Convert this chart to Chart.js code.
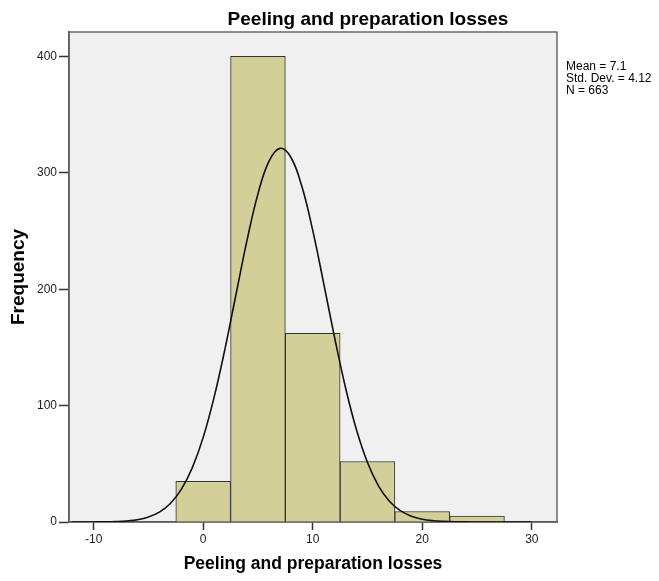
<!DOCTYPE html>
<html>
<head>
<meta charset="utf-8">
<script src="https://cdn.jsdelivr.net/npm/chart.js@4/dist/chart.umd.min.js"></script>
<style>
  body { margin: 0; background: #fff; }
  #histChart { display: block; }
</style>
</head>
<body>
<canvas id="histChart" width="659" height="581"></canvas>

<script>
  // histogram bins (centres) and counts
  const binCentres = [0, 5, 10, 15, 20, 25];
  const binCounts = [35, 400, 162, 52, 9, 5];

  // normal curve
  const curveX = [-12, -11, -10, -9, -8, -7, -6, -5, -4, -3, -2, -1, 0, 1, 2, 3, 4, 5, 6, 7, 8, 9,
    10, 11, 12, 13, 14, 15, 16, 17, 18, 19, 20, 21, 22, 23, 24, 25, 26, 27, 28, 29, 30];
  const curveY = [0, 0.02, 0.06, 0.16, 0.39, 0.9, 2.0, 4.3, 8.5, 15.9, 28.0, 46.5, 72.7, 107.3, 149.2,
    195.7, 241.9, 281.9, 309.8, 321.0, 313.4, 288.6, 250.6, 205.1, 158.3, 115.1, 79.0, 51.1, 31.1,
    17.9, 9.7, 5.0, 2.4, 1.1, 0.5, 0.2, 0.1, 0, 0, 0, 0, 0, 0];

  const xTicks = [-10, 0, 10, 20, 30];
  const yTicks = [0, 100, 200, 300, 400];

  const titleText = "Peeling and preparation losses";
  const statsLines = ["Mean = 7.1", "Std. Dev. = 4.12", "N = 663"];

  const fontFamily = "'Liberation Sans', Arial, sans-serif";

  // plot background, frame, title and stats box
  const decor = {
    id: "decor",
    beforeDraw(chart) {
      const { ctx, chartArea: a } = chart;
      ctx.save();
      ctx.fillStyle = "#f0f0f0";
      ctx.fillRect(a.left, a.top, a.right - a.left, a.bottom - a.top);
      ctx.restore();
    },
    beforeDatasetsDraw(chart) {
      const { ctx, chartArea: a } = chart;
      ctx.save();
      ctx.strokeStyle = "#6a6a6a";
      ctx.lineWidth = 1.5;
      ctx.strokeRect(a.left, a.top, a.right - a.left, a.bottom - a.top);
      ctx.restore();
    },
    afterDraw(chart) {
      const { ctx } = chart;
      ctx.save();
      ctx.fillStyle = "#000";
      ctx.font = "bold 19px " + fontFamily;
      ctx.textAlign = "center";
      ctx.textBaseline = "alphabetic";
      ctx.fillText(titleText, 368, 25);

      ctx.font = "12px " + fontFamily;
      ctx.textAlign = "left";
      statsLines.forEach((t, i) => ctx.fillText(t, 566, 70 + i * 12));
      ctx.restore();
    },
  };

  const ctx = document.getElementById("histChart").getContext("2d");
  new Chart(ctx, {
    type: "bar",
    data: {
      datasets: [
        {
          type: "line",
          data: curveX.map((x, i) => ({ x: x, y: curveY[i] })),
          borderColor: "#111",
          borderWidth: 1.6,
          pointRadius: 0,
          tension: 0.4,
          fill: false,
          order: 0,
        },
        {
          type: "bar",
          data: binCentres.map((x, i) => ({ x: x, y: binCounts[i] })),
          backgroundColor: "#d3cf99",
          borderColor: "#333",
          borderWidth: 1,
          barPercentage: 1,
          categoryPercentage: 1,
          order: 1,
        },
      ],
    },
    options: {
      responsive: false,
      animation: false,
      layout: { padding: { top: 32, right: 102, left: 0, bottom: 0 } },
      plugins: {
        legend: { display: false },
        tooltip: { enabled: false },
      },
      scales: {
        x: {
          type: "linear",
          min: -12.25,
          max: 32.3,
          offset: false,
          grid: {
            offset: false,
            drawOnChartArea: false,
            drawTicks: true,
            tickLength: 8,
            tickWidth: 1.5,
            tickColor: "#333",
          },
          border: { color: "#333", width: 1.5 },
          afterBuildTicks: (scale) => {
            scale.ticks = xTicks.map((v) => ({ value: v }));
          },
          afterFit: (scale) => {
            scale.height = 59;
            scale.paddingLeft = 0;
            scale.paddingRight = 0;
          },
          ticks: {
            color: "#222",
            padding: 2,
            maxRotation: 0,
            font: { family: fontFamily, size: 12 },
          },
          title: {
            display: true,
            text: titleText,
            color: "#000",
            font: { family: fontFamily, size: 17.5, weight: "bold" },
            padding: { top: 0, bottom: 6 },
          },
        },
        y: {
          min: 0,
          max: 421,
          grid: {
            drawOnChartArea: false,
            drawTicks: true,
            tickLength: 10,
            tickWidth: 1.5,
            tickColor: "#333",
          },
          border: { color: "#333", width: 1.5 },
          afterBuildTicks: (scale) => {
            scale.ticks = yTicks.map((v) => ({ value: v }));
          },
          afterFit: (scale) => {
            scale.width = 69;
            scale.paddingTop = 0;
            scale.paddingBottom = 0;
          },
          ticks: {
            color: "#222",
            padding: 2,
            font: { family: fontFamily, size: 12 },
          },
          title: {
            display: true,
            text: "Frequency",
            color: "#000",
            font: { family: fontFamily, size: 19, weight: "bold" },
            padding: { top: 7, bottom: 0 },
          },
        },
      },
    },
    plugins: [decor],
  });
</script>
</body>
</html>
